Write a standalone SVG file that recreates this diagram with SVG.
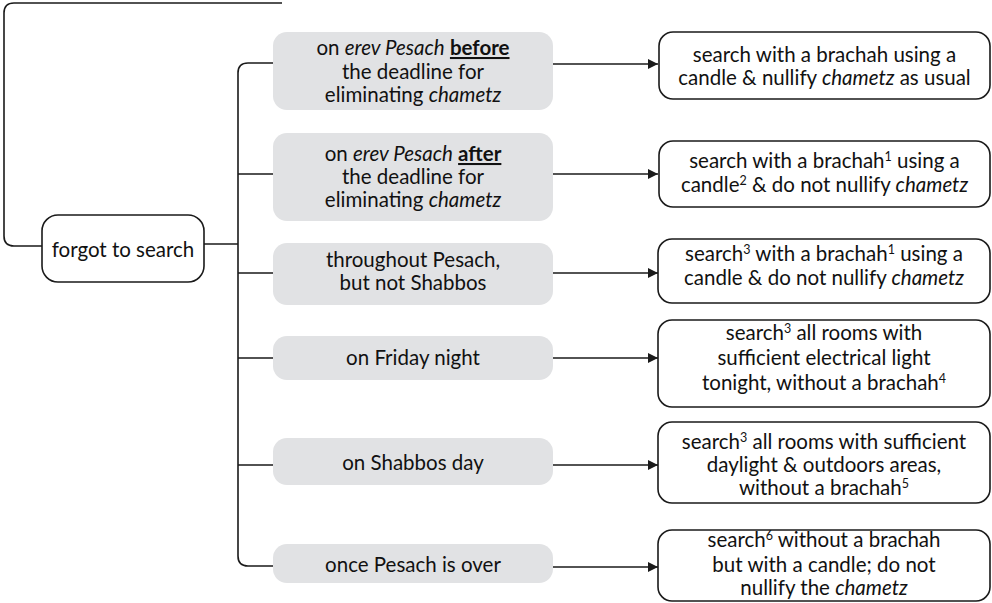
<svg xmlns="http://www.w3.org/2000/svg" width="992" height="603" viewBox="0 0 992 603">
<defs>
<style>
text{font-family:Lato,"Liberation Sans",sans-serif;font-size:20.5px;fill:#111;text-anchor:middle}
.g{fill:#e1e2e4;stroke:none}
.w{fill:#fff;stroke:#1a1a1a;stroke-width:1.6}
.c{fill:none;stroke:#1a1a1a;stroke-width:1.6}
.i{font-style:italic}
.b{font-weight:bold;text-decoration:underline}
.s{font-size:12.5px}
</style>
<marker id="ah" viewBox="0 0 10 10" refX="10" refY="5" markerWidth="10" markerHeight="10" markerUnits="userSpaceOnUse" orient="auto"><path d="M0,0 L10,5 L0,10 z" fill="#1a1a1a"/></marker>
</defs>
<rect width="992" height="603" fill="#fff"/>
<g id="connectors">
<path class="c" d="M282,3 H14 Q4,3 4,13 V236 Q4,246 14,246 H42"/>
<path class="c" d="M204,244 H238"/>
<path class="c" d="M273,63 H248 Q238,63 238,73 V556 Q238,566 248,566 H273"/>
<path class="c" d="M238,174 H273 M238,273 H273 M238,358 H273 M238,465 H273"/>
<path class="c" marker-end="url(#ah)" d="M553,64 H658"/>
<path class="c" marker-end="url(#ah)" d="M553,174 H658"/>
<path class="c" marker-end="url(#ah)" d="M553,273 H658"/>
<path class="c" marker-end="url(#ah)" d="M553,358 H658"/>
<path class="c" marker-end="url(#ah)" d="M553,465 H658"/>
<path class="c" marker-end="url(#ah)" d="M553,567 H658"/>
</g>
<g id="forgot">
<rect class="w" x="42" y="215" width="162" height="67" rx="16"/>
<text x="123" y="257">forgot to search</text>
</g>
<g id="c1">
<rect class="g" x="273" y="32" width="280" height="78" rx="14"/>
<text x="413" y="55">on <tspan class="i">erev Pesach</tspan> <tspan class="b">before</tspan></text>
<text x="413" y="79">the deadline for</text>
<text x="413" y="102">eliminating <tspan class="i">chametz</tspan></text>
</g>
<g id="c2">
<rect class="g" x="273" y="133" width="280" height="88" rx="14"/>
<text x="413" y="161">on <tspan class="i">erev Pesach</tspan> <tspan class="b">after</tspan></text>
<text x="413" y="184">the deadline for</text>
<text x="413" y="207">eliminating <tspan class="i">chametz</tspan></text>
</g>
<g id="c3">
<rect class="g" x="273" y="243" width="280" height="62" rx="14"/>
<text x="413" y="267">throughout Pesach,</text>
<text x="413" y="290">but not Shabbos</text>
</g>
<g id="c4">
<rect class="g" x="273" y="336" width="280" height="44" rx="14"/>
<text x="413" y="365">on Friday night</text>
</g>
<g id="c5">
<rect class="g" x="273" y="438" width="280" height="47" rx="14"/>
<text x="413" y="470">on Shabbos day</text>
</g>
<g id="c6">
<rect class="g" x="273" y="544" width="280" height="39" rx="14"/>
<text x="413" y="572">once Pesach is over</text>
</g>
<g id="r1">
<rect class="w" x="659" y="32" width="331" height="67" rx="14"/>
<text x="824.5" y="62">search with a brachah using a</text>
<text x="824.5" y="85">candle &amp; nullify <tspan class="i">chametz</tspan> as usual</text>
</g>
<g id="r2">
<rect class="w" x="659" y="141" width="331" height="66" rx="14"/>
<text x="824.5" y="168">search with a brachah<tspan class="s" dy="-7">1</tspan><tspan dy="7"> using a</tspan></text>
<text x="824.5" y="192">candle<tspan class="s" dy="-7">2</tspan><tspan dy="7"> &amp; do not nullify </tspan><tspan class="i">chametz</tspan></text>
</g>
<g id="r3">
<rect class="w" x="658" y="239" width="332" height="64" rx="14"/>
<text x="824" y="261">search<tspan class="s" dy="-7">3</tspan><tspan dy="7"> with a brachah</tspan><tspan class="s" dy="-7">1</tspan><tspan dy="7"> using a</tspan></text>
<text x="824" y="285">candle &amp; do not nullify <tspan class="i">chametz</tspan></text>
</g>
<g id="r4">
<rect class="w" x="658" y="320" width="332" height="87" rx="14"/>
<text x="824" y="340">search<tspan class="s" dy="-7">3</tspan><tspan dy="7"> all rooms with</tspan></text>
<text x="824" y="365">sufficient electrical light</text>
<text x="824" y="390">tonight, without a brachah<tspan class="s" dy="-7">4</tspan></text>
</g>
<g id="r5">
<rect class="w" x="658" y="422" width="332" height="81" rx="14"/>
<text x="824" y="449">search<tspan class="s" dy="-7">3</tspan><tspan dy="7"> all rooms with sufficient</tspan></text>
<text x="824" y="472">daylight &amp; outdoors areas,</text>
<text x="824" y="495">without a brachah<tspan class="s" dy="-7">5</tspan></text>
</g>
<g id="r6">
<rect class="w" x="658" y="530" width="332" height="71" rx="14"/>
<text x="824" y="547">search<tspan class="s" dy="-7">6</tspan><tspan dy="7"> without a brachah</tspan></text>
<text x="824" y="572">but with a candle; do not</text>
<text x="824" y="595">nullify the <tspan class="i">chametz</tspan></text>
</g>
</svg>
